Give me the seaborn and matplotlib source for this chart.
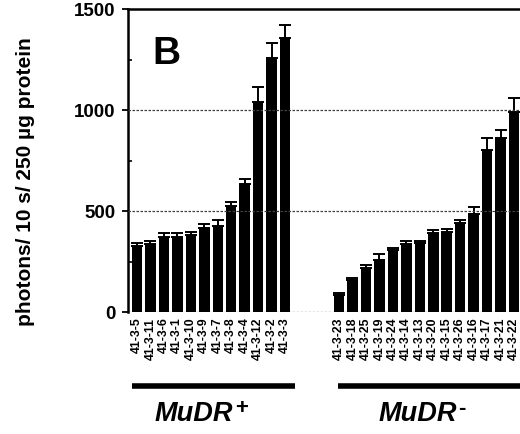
import matplotlib
matplotlib.use("Agg")
import matplotlib.pyplot as plt
import matplotlib.ticker as mticker
import seaborn as sns
import pandas as pd

# Luciferase activity per line
plus_lines = ["41-3-5", "41-3-11", "41-3-6", "41-3-1", "41-3-10", "41-3-9",
              "41-3-7", "41-3-8", "41-3-4", "41-3-12", "41-3-2", "41-3-3"]
plus_values = [325, 338, 370, 372, 382, 415, 427, 527, 636, 1040, 1260, 1355]
plus_err = [15, 15, 20, 20, 15, 20, 30, 20, 25, 75, 70, 65]

minus_lines = ["41-3-23", "41-3-18", "41-3-25", "41-3-19", "41-3-24", "41-3-14",
               "41-3-13", "41-3-20", "41-3-15", "41-3-26", "41-3-16", "41-3-17",
               "41-3-21", "41-3-22"]
minus_values = [84, 158, 218, 257, 307, 337, 342, 392, 395, 441, 485, 802, 861, 990]
minus_err = [8, 12, 15, 30, 12, 15, 12, 15, 15, 15, 35, 60, 40, 70]

gap_slots = ["gap1", "gap2", "gap3"]
y_ticks = [0, 500, 1000, 1500]
group_labels = ["MuDR", "MuDR"]
group_signs = ["+", "-"]

sns.set_theme(style="white")
plt.rcParams["font.family"] = ["Liberation Sans", "DejaVu Sans"]
plt.rcParams["font.weight"] = "bold"
plt.rcParams["text.color"] = "black"
plt.rcParams["axes.labelcolor"] = "black"
plt.rcParams["xtick.color"] = "black"
plt.rcParams["ytick.color"] = "black"

df = pd.DataFrame({
    "line": plus_lines + minus_lines,
    "value": plus_values + minus_values,
    "err": plus_err + minus_err,
})
order = plus_lines + gap_slots + minus_lines

fig = plt.figure(figsize=(5.2, 4.34), dpi=100)
ax = fig.add_axes([0.246, 0.281, 0.76, 0.698])

sns.barplot(data=df, x="line", y="value", order=order, color="black",
            saturation=1, width=0.78, errorbar=None, ax=ax, zorder=2,
            linewidth=0)
pos = [order.index(n) for n in df["line"]]
ax.errorbar(pos, df["value"], yerr=[[0] * len(df), df["err"]], fmt="none",
            ecolor="black", elinewidth=1.4, capsize=4, capthick=1.4, zorder=3)

# dotted reference lines
for y in [0, 500, 1000]:
    ax.axhline(y, color="0.25", lw=0.9, ls=(0, (2, 1.2)), zorder=4 if y else 1)

ax.set_xlim(-0.67, len(order) - 1 + 0.67)
ax.set_ylim(0, 1500)
ax.set_yticks(y_ticks)
ax.yaxis.set_minor_locator(mticker.MultipleLocator(250))
ax.tick_params(axis="y", which="major", direction="out", length=4, width=1.3,
               labelsize=13.5, pad=5, left=True)
ax.tick_params(axis="y", which="minor", direction="in", length=3, width=1.2, left=True)
ax.tick_params(axis="x", length=0, pad=4)

ax.set_xticks(range(len(order)))
ax.set_xticklabels(["" if n in gap_slots else n for n in order],
                   rotation=90, fontsize=8.8, fontweight="bold")
ax.set_xlabel("")
ax.set_ylabel("photons/ 10 s/ 250 \u00b5g protein", fontsize=15, fontweight="bold")
ax.yaxis.set_label_coords(-0.235, 0.43)

for side in ["left", "top"]:
    ax.spines[side].set_color("black")
    ax.spines[side].set_linewidth(1.8)
ax.spines["bottom"].set_visible(False)
ax.spines["right"].set_visible(False)

ax.text(0.063, 0.91, "B", transform=ax.transAxes, fontsize=28,
        fontweight="bold", va="top", ha="left")

# group bars and labels below the axis
tr = ax.get_xaxis_transform()
ax.plot([-0.37, len(plus_lines) - 0.25], [-0.243, -0.243], color="black", lw=4,
        transform=tr, clip_on=False, solid_capstyle="butt")
start2 = len(plus_lines) + len(gap_slots)
ax.plot([start2 - 0.05, start2 + len(minus_lines)], [-0.243, -0.243], color="black",
        lw=4, transform=tr, clip_on=False, solid_capstyle="butt")

for x, lab, sign in [(1.34, group_labels[0], group_signs[0]),
                     (17.9, group_labels[1], group_signs[1])]:
    t = ax.text(x, -0.335, lab, transform=tr, fontsize=19.5, fontstyle="italic",
                fontweight="bold", ha="left", va="center")
    ax.annotate(sign, xy=(1.0, 1.0), xycoords=t, xytext=(1, 2),
                textcoords="offset points", fontsize=16,
                fontweight="bold", ha="left", va="top")

fig.savefig("out.png", dpi=100)
